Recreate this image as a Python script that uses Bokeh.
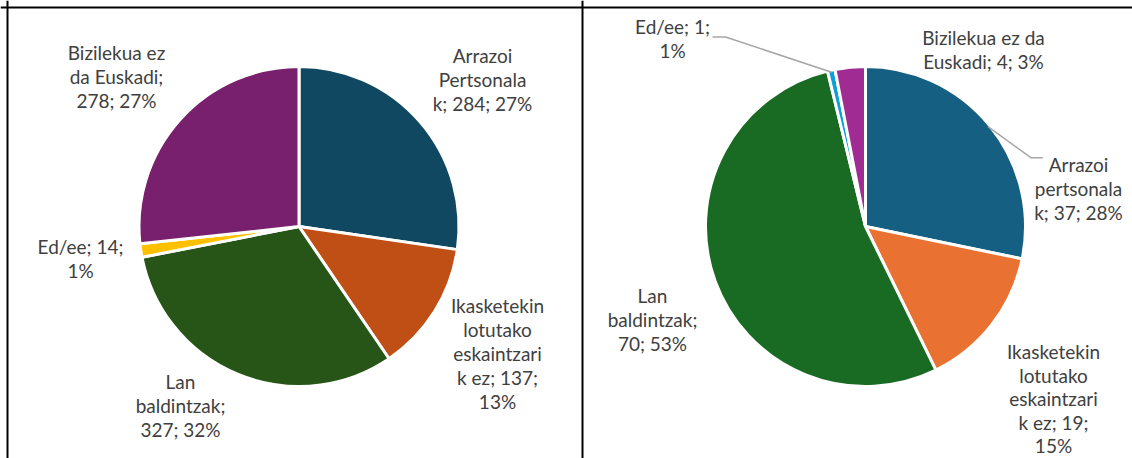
import numpy as np
from bokeh.plotting import figure
from bokeh.models import Range1d, Span, ColumnDataSource
from bokeh.embed import file_html
from bokeh.resources import INLINE
from bokeh.core.properties import value

# ---------------- data ----------------
categories_left = ["Arrazoi Pertsonalak", "Ikasketekin lotutako eskaintzarik ez",
                   "Lan baldintzak", "Ed/ee", "Bizilekua ez da Euskadi"]
values_left = [284, 137, 327, 14, 278]
percent_left = [27, 13, 32, 1, 27]

categories_right = ["Arrazoi pertsonalak", "Ikasketekin lotutako eskaintzarik ez",
                    "Lan baldintzak", "Ed/ee", "Bizilekua ez da Euskadi"]
values_right = [37, 19, 70, 1, 4]
percent_right = [28, 15, 53, 1, 3]

# ---------------- styles / layout ----------------
colors_left = ["#104861", "#C04F15", "#275417", "#FFC000", "#78206E"]
colors_right = ["#156082", "#E97132", "#196B24", "#0F9ED5", "#A02B93"]

# line lengths (characters) used to wrap each data label like the original
wrap_left = [[7, 10, 11], [11, 8, 11, 10, 3], [3, 11, 8], [10, 2], [12, 11, 8]]
wrap_right = [[7, 10, 10], [11, 8, 11, 9, 3], [3, 11, 7], [9, 2], [15, 14]]

# label anchor: centre x, first-line centre y (page pixels)
anchor_left = [(482, 55), (497, 305), (180, 381), (80, 246), (116, 52)]
anchor_right = [(1078, 164), (1053, 351), (652, 295), (672, 26), (983, 37)]

W, H = 1132, 458
LINE_GAP = 24
R = 160
centre_left = (298.5, 226)
centre_right = (865, 226)

FONT = "Lato"
FONT_SIZE = "19px"
TEXT_COLOR = "#404040"


def Y(y_img):
    return H - y_img


def wrap(s, lens):
    out, i = [], 0
    for n in lens:
        out.append(s[i:i + n].strip())
        i += n
        while i < len(s) and s[i] == " ":
            i += 1
    return out


p = figure(width=W, height=H, x_range=Range1d(0, W), y_range=Range1d(0, H),
           output_backend="svg", toolbar_location=None, min_border=0,
           x_axis_location=None, y_axis_location=None)
p.grid.visible = False
p.outline_line_color = None
p.background_fill_color = "white"
p.border_fill_color = "white"


def draw_pie(centre, vals, pcts, cats, colors, wraps, anchors, gaps):
    cx, cy = centre
    total = float(sum(vals))
    fr = np.cumsum([0] + list(vals)) / total
    start = np.pi / 2 - fr[1:] * 2 * np.pi
    end = np.pi / 2 - fr[:-1] * 2 * np.pi
    src = ColumnDataSource(dict(start=start, end=end, color=colors, cat=cats, val=vals))
    p.wedge(x=cx, y=Y(cy), radius=R, start_angle="start", end_angle="end",
            fill_color="color", line_color="white", line_width=3, source=src)
    xs, ys, ts = [], [], []
    for cat, v, pc, wl, (ax, ay), g in zip(cats, vals, pcts, wraps, anchors, gaps):
        lines = wrap(f"{cat}; {v}; {pc}%", wl)
        for k, ln in enumerate(lines):
            xs.append(ax)
            ys.append(Y(ay + k * g))
            ts.append(ln)
    p.text(x=xs, y=ys, text=ts, text_align="center", text_baseline="middle",
           text_font=value(FONT), text_font_size=FONT_SIZE, text_color=TEXT_COLOR)
    mids = np.pi / 2 - (fr[:-1] + fr[1:]) / 2 * 2 * np.pi
    return [(cx + (R - 2) * np.cos(m), cy - (R - 2) * np.sin(m)) for m in mids]


draw_pie(centre_left, values_left, percent_left, categories_left, colors_left, wrap_left,
         anchor_left, [LINE_GAP] * 5)
edge_right = draw_pie(centre_right, values_right, percent_right, categories_right, colors_right,
                      wrap_right, anchor_right, [LINE_GAP, 23.5, LINE_GAP, LINE_GAP, LINE_GAP])

# leader lines (right pie): Arrazoi and Ed/ee labels
leader_color = "#A6A6A6"
ex, ey = edge_right[0]
p.line(x=[ex, 1030.7, 1042.3], y=[Y(ey), Y(157.3), Y(157.3)], line_color=leader_color, line_width=1.5)
ex, ey = edge_right[3]
p.line(x=[ex, 725, 712], y=[Y(ey), Y(36.5), Y(36.5)], line_color=leader_color, line_width=1.5)

# table borders
p.add_layout(Span(location=Y(7), dimension="width", line_color="black", line_width=2))
p.add_layout(Span(location=7, dimension="height", line_color="black", line_width=2))
p.add_layout(Span(location=582, dimension="height", line_color="black", line_width=2))

open("out.html", "w").write(file_html(p, INLINE))
